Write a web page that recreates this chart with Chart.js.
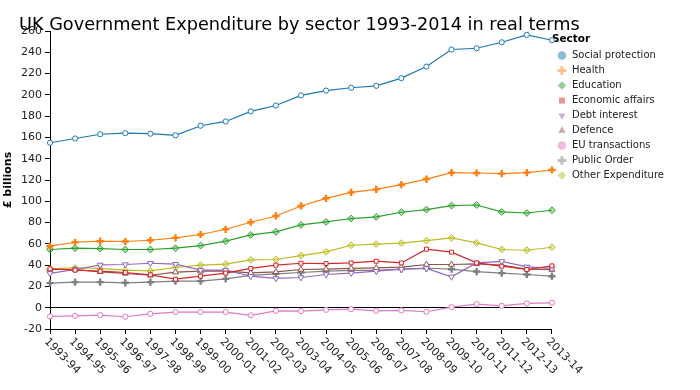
<!DOCTYPE html>
<html>
<head>
<meta charset="utf-8">
<script src="https://cdn.jsdelivr.net/npm/chart.js@4/dist/chart.umd.min.js"></script>
<style>
  html, body { margin: 0; padding: 0; background: #fff; }
  #wrap { width: 700px; height: 390px; }
</style>
</head>
<body>
<div id="wrap"><canvas id="chart"></canvas></div>
<script>
    // 데이터 (£ billions, real terms)
    const years = ['1993-94', '1994-95', '1995-96', '1996-97', '1997-98', '1998-99', '1999-00',
        '2000-01', '2001-02', '2002-03', '2003-04', '2004-05', '2005-06', '2006-07', '2007-08',
        '2008-09', '2009-10', '2010-11', '2011-12', '2012-13', '2013-14'];
    const socialProtection = [155, 159, 163, 164, 163.5, 162, 171, 175, 184.5, 190, 199.5, 204, 206.7, 208.5, 215.7, 226.6, 242.6, 243.8, 249.4, 256.4, 251.3];
    const health = [57.8, 61.5, 62.5, 62.2, 63.4, 65.6, 68.8, 73.7, 80.3, 86.2, 95.6, 102.8, 108.4, 111.2, 115.6, 120.9, 126.9, 126.6, 126, 126.9, 129.4];
    const education = [54.7, 55.9, 55.6, 54.7, 54.7, 55.9, 58.4, 62.5, 68.4, 71.2, 77.8, 80.6, 83.8, 85.3, 89.7, 92.2, 96, 96.5, 90, 89, 91.6];
    const economicAffairs = [36.5, 35.3, 34.3, 33.1, 30.9, 26.8, 29.6, 32.5, 36.9, 40, 41.8, 41.5, 42.1, 43.7, 42.1, 55, 52.2, 42.1, 39, 35.9, 39.3];
    const debtInterest = [32.2, 35.9, 40.2, 40.6, 41.8, 40.9, 35.3, 35.3, 29.6, 27.5, 28.4, 31.2, 32.5, 34.3, 36.2, 36.9, 29, 42.1, 43.5, 38.4, 36.9];
    const defence = [35.9, 35.9, 33.7, 32.2, 30.5, 33.4, 34.3, 34.3, 32.7, 33.7, 35.9, 36.2, 36.9, 37.4, 38.1, 40.6, 40.6, 41.2, 40, 36.3, 35.8];
    const euTransactions = [-8.2, -7.6, -6.9, -8.5, -5.7, -4.1, -4.1, -4.1, -7.2, -2.9, -3.2, -2, -1.3, -2.9, -2.5, -3.8, 0.6, 3.4, 1.8, 4, 4.6];
    const publicOrder = [23.1, 24, 24, 23.4, 24, 25, 25, 27.1, 30.3, 31.8, 33.1, 34.3, 35, 35, 36.2, 37.1, 36.2, 34, 32.5, 31.2, 29.6];
    const otherExpenditure = [36.5, 37.4, 36.9, 35.3, 34.6, 37.8, 40, 40.9, 45, 45.3, 49, 52.5, 58.7, 59.7, 60.6, 63, 65.6, 60.9, 54.7, 54, 56.8];

    const yMin = -20, yMax = 260, yStep = 20;
    const FONT = "'DejaVu Sans', sans-serif";

    // 시리즈 정의: 이름, 값, 색, 마커
    function series(label, data, color, light, pointStyle, extra) {
        return Object.assign({
            label: label,
            data: data,
            borderColor: color,
            backgroundColor: '#fff',
            borderWidth: 1.2,
            pointStyle: pointStyle,
            pointRadius: 2.6,
            pointBorderWidth: 1,
            pointBorderColor: color,
            pointBackgroundColor: '#fff',
            tension: 0,
            legendColor: light
        }, extra || {});
    }

    const datasets = [
        series('Social protection', socialProtection, '#1f77b4', 'rgba(31,119,180,0.5)', 'circle'),
        series('Health', health, '#ff7f0e', 'rgba(255,127,14,0.5)', 'cross', { pointRadius: 3.6, pointBorderWidth: 2.4 }),
        series('Education', education, '#2ca02c', 'rgba(44,160,44,0.5)', 'rectRot', { pointRadius: 3.4, pointBackgroundColor: 'rgba(44,160,44,0.35)' }),
        series('Economic affairs', economicAffairs, '#d62728', 'rgba(214,39,40,0.5)', 'rect', { pointRadius: 2.8 }),
        series('Debt interest', debtInterest, '#9467bd', 'rgba(148,103,189,0.5)', 'triangle', { pointRadius: 3.4, pointRotation: 180 }),
        series('Defence', defence, '#8c564b', 'rgba(140,86,75,0.5)', 'triangle', { pointRadius: 3.4 }),
        series('EU transactions', euTransactions, '#e377c2', 'rgba(227,119,194,0.5)', 'circle'),
        series('Public Order', publicOrder, '#7f7f7f', 'rgba(127,127,127,0.5)', 'cross', { pointRadius: 3.6, pointBorderWidth: 2.4 }),
        series('Other Expenditure', otherExpenditure, '#bcbd22', 'rgba(188,189,34,0.5)', 'rectRot', { pointRadius: 3.4, pointBackgroundColor: 'rgba(188,189,34,0.35)' })
    ];

    // 제목과 x축 라벨(45도 회전) 그리기
    const overlayPlugin = {
        id: 'overlay',
        afterDraw(chart) {
            const ctx = chart.ctx;
            const xs = chart.scales.x;
            ctx.save();
            ctx.fillStyle = '#222';
            ctx.font = '11px ' + FONT;
            ctx.textAlign = 'left';
            ctx.textBaseline = 'middle';
            years.forEach((lab, i) => {
                const px = xs.getPixelForValue(i);
                ctx.save();
                ctx.translate(px - 4, xs.top + 11);
                ctx.rotate(Math.PI / 4);
                ctx.fillText(lab, 0, 0);
                ctx.restore();
            });
            ctx.fillStyle = '#000';
            ctx.font = '17.7px ' + FONT;
            ctx.textBaseline = 'alphabetic';
            ctx.fillText('UK Government Expenditure by sector 1993-2014 in real terms', 19, 30);
            ctx.restore();
        }
    };

    window.onload = function() {
        new Chart(document.getElementById('chart'), {
            type: 'line',
            data: { labels: years, datasets: datasets },
            options: {
                responsive: true,
                maintainAspectRatio: false,
                animation: false,
                layout: { padding: { top: 31, right: 26, bottom: 56, left: 2 } },
                plugins: {
                    title: { display: false },
                    tooltip: { enabled: false },
                    legend: {
                        position: 'right',
                        align: 'start',
                        title: {
                            display: true,
                            text: 'Sector',
                            position: 'start',
                            color: '#000',
                            font: { family: FONT, size: 10.5, weight: 'bold' },
                            padding: { top: 3, bottom: -1 }
                        },
                        labels: {
                            color: '#222',
                            font: { family: FONT, size: 10 },
                            usePointStyle: true,
                            boxWidth: 14,
                            boxHeight: 6,
                            padding: 5,
                            generateLabels: (chart) => chart.data.datasets.map((ds, i) => {
                                const isCross = ds.pointStyle === 'cross';
                                return {
                                    text: ds.label,
                                    fillStyle: ds.legendColor,
                                    strokeStyle: isCross ? ds.legendColor : 'rgba(0,0,0,0)',
                                    lineWidth: isCross ? 3 : 0,
                                    pointStyle: ds.pointStyle,
                                    rotation: ds.pointRotation || 0,
                                    fontColor: '#222',
                                    hidden: false,
                                    datasetIndex: i
                                };
                            })
                        }
                    }
                },
                scales: {
                    x: {
                        type: 'category',
                        offset: false,
                        border: { display: true, color: '#000', width: 1 },
                        grid: { drawOnChartArea: false, drawTicks: true, tickLength: 5, tickColor: '#000' },
                        ticks: { display: false }
                    },
                    y: {
                        min: yMin,
                        max: yMax,
                        afterFit: (s) => { s.width = 48; },
                        border: { display: true, color: '#000', width: 1 },
                        grid: {
                            drawOnChartArea: true,
                            drawTicks: true,
                            tickLength: 5,
                            tickColor: '#000',
                            color: (c) => (c.tick && c.tick.value === 0) ? '#000' : 'rgba(0,0,0,0)'
                        },
                        ticks: {
                            stepSize: yStep,
                            color: '#222',
                            padding: 3,
                            font: { family: FONT, size: 11 }
                        },
                        title: {
                            display: true,
                            text: '£ billions',
                            color: '#000',
                            font: { family: FONT, size: 11, weight: 'bold' },
                            padding: { top: 0, bottom: 4 }
                        }
                    }
                }
            },
            plugins: [overlayPlugin]
        });
    };
</script>
</body>
</html>
